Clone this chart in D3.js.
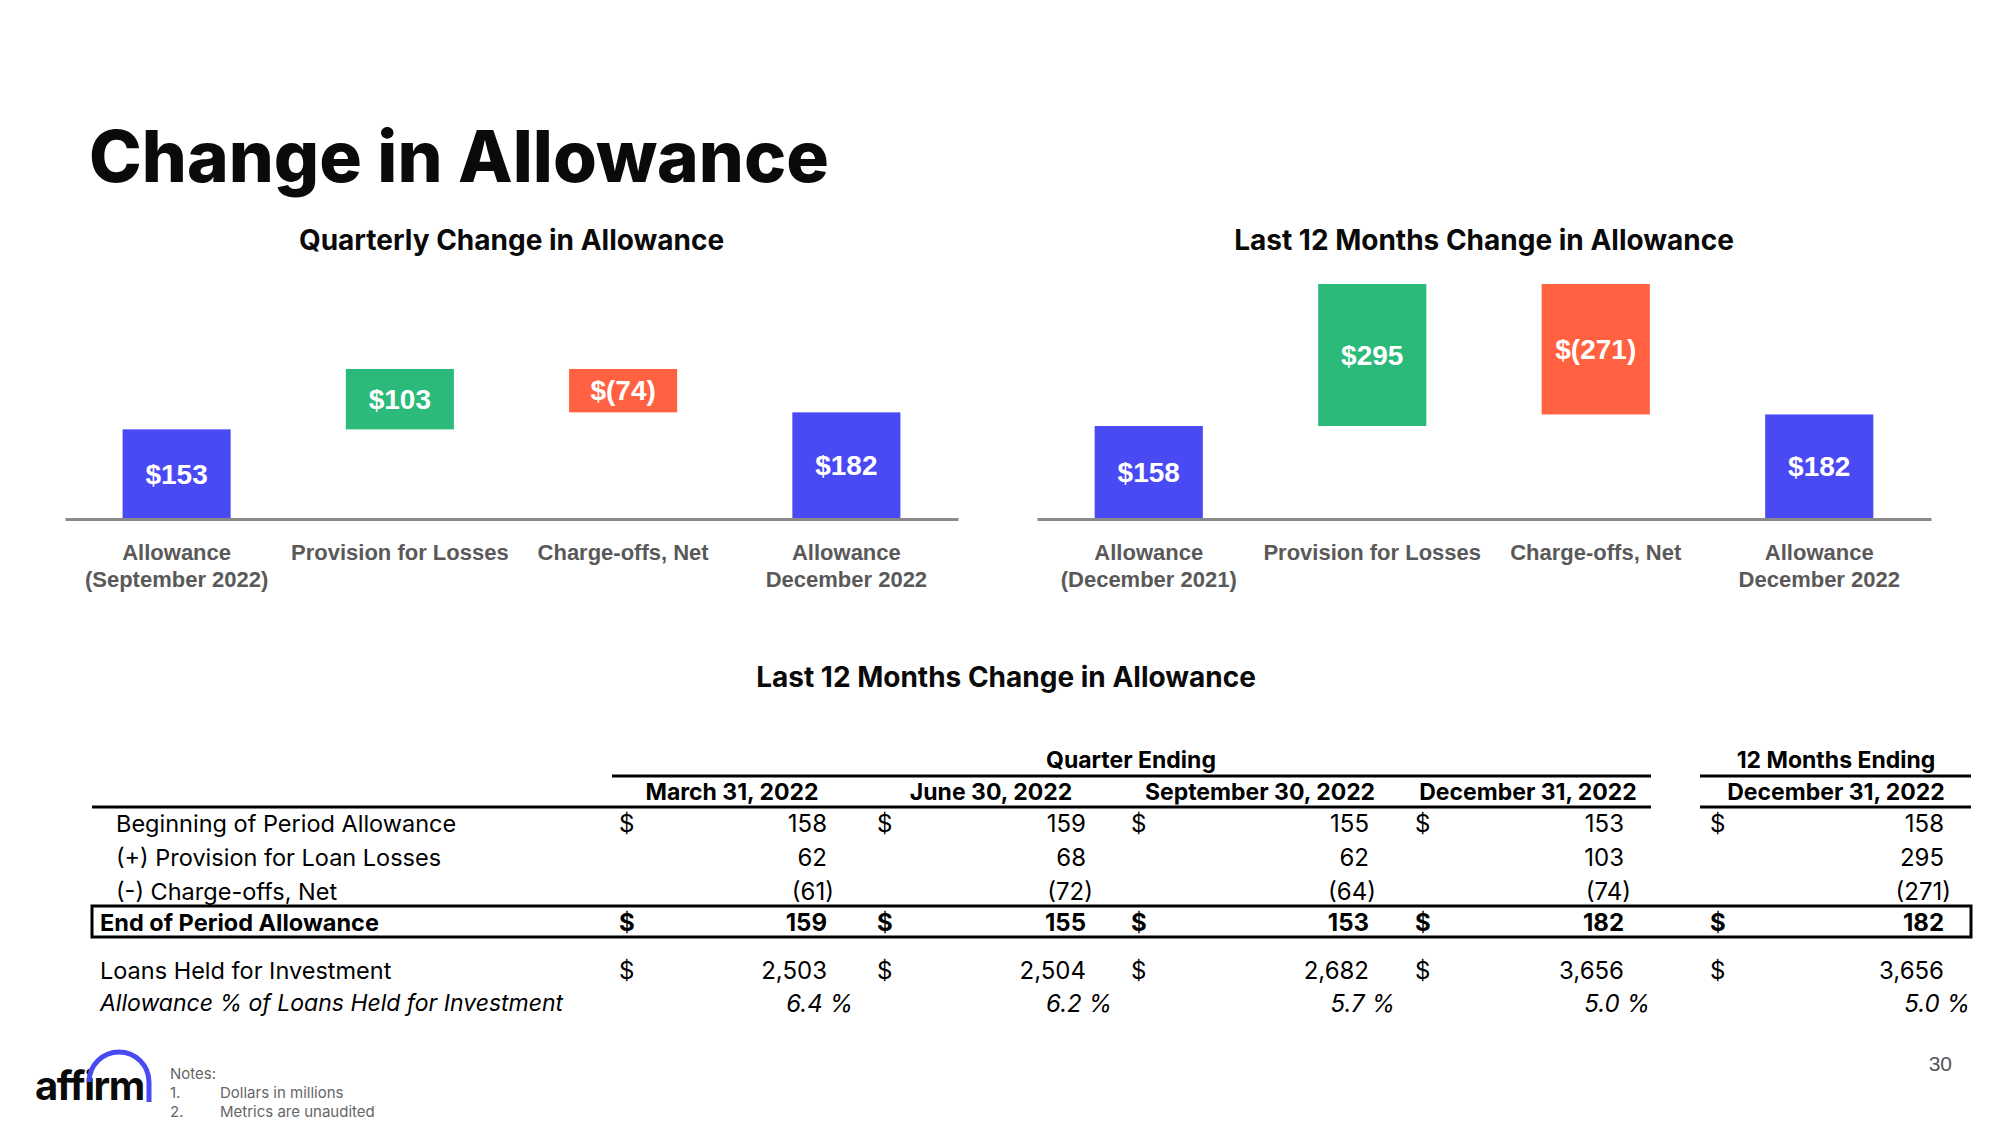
<!DOCTYPE html>
<html>
<head>
<meta charset="utf-8">
<script src="https://cdn.jsdelivr.net/npm/d3@7"></script>
<style>
  body { margin: 0; background: #fff; }
  svg text { font-family: Inter, "Noto Sans", sans-serif; }
</style>
</head>
<body>
<svg id="slide"></svg>
<script>
// ---- data ----
var quarterCategories = ["Allowance\n(September 2022)", "Provision for Losses", "Charge-offs, Net", "Allowance\nDecember 2022"];
var quarterValues = [153, 103, -74, 182];

var ltmCategories = ["Allowance\n(December 2021)", "Provision for Losses", "Charge-offs, Net", "Allowance\nDecember 2022"];
var ltmValues = [158, 295, -271, 182];

var tableColumns = ["March 31, 2022", "June 30, 2022", "September 30, 2022", "December 31, 2022", "December 31, 2022"];
var rowLabels = ["Beginning of Period Allowance", "(+) Provision for Loan Losses", "(-) Charge-offs, Net",
                 "End of Period Allowance", "Loans Held for Investment", "Allowance % of Loans Held for Investment"];
var beginAllowance = [158, 159, 155, 153, 158];
var provisionLosses = [62, 68, 62, 103, 295];
var chargeOffs = [-61, -72, -64, -74, -271];
var endAllowance = [159, 155, 153, 182, 182];
var loansHeld = [2503, 2504, 2682, 3656, 3656];
var allowancePct = [6.4, 6.2, 5.7, 5.0, 5.0];

// ---- colours ----
var blue = "#4a4af4", green = "#2bba7a", red = "#ff6141";

var svg = d3.select("#slide").attr("width", 2000).attr("height", 1125);

// title
svg.append("text")
    .attr("x", 89).attr("y", 182)
    .attr("font-size", 71).attr("font-weight", 800)
    .attr("fill", "#0a0a0a")
    .text("Change in Allowance");

function money(v) {
    return v < 0 ? "$(" + (-v) + ")" : "$" + v;
}

// waterfall chart
function drawWaterfall(title, cats, values, xRange, yScale) {
    var g = svg.append("g");

    var x = d3.scaleBand()
        .domain(cats)
        .range(xRange)
        .paddingInner(0.516)
        .paddingOuter(0.258);

    // running totals -> bar start/end
    var run = 0;
    var steps = values.map(function(v, i) {
        var s;
        if (i === 0 || i === values.length - 1) {
            s = { y0: 0, y1: v, type: "total" };
            run = v;
        } else {
            s = { y0: run, y1: run + v, type: v >= 0 ? "up" : "down" };
            run = run + v;
        }
        s.cat = cats[i];
        s.value = v;
        return s;
    });

    g.append("text")
        .attr("x", (xRange[0] + xRange[1]) / 2).attr("y", 240)
        .attr("text-anchor", "middle").attr("dominant-baseline", "central")
        .attr("font-size", 28).attr("font-weight", 700).attr("fill", "#0a0a0a")
        .text(title);

    g.selectAll("rect.bar")
        .data(steps)
        .enter().append("rect")
        .attr("class", "bar")
        .attr("x", function(d) { return x(d.cat); })
        .attr("width", x.bandwidth())
        .attr("y", function(d) { return yScale(Math.max(d.y0, d.y1)); })
        .attr("height", function(d) { return Math.abs(yScale(d.y0) - yScale(d.y1)); })
        .attr("fill", function(d) { return d.type === "total" ? blue : (d.type === "up" ? green : red); });

    g.selectAll("text.val")
        .data(steps)
        .enter().append("text")
        .attr("class", "val")
        .attr("x", function(d) { return x(d.cat) + x.bandwidth() / 2; })
        .attr("y", function(d) { return (yScale(d.y0) + yScale(d.y1)) / 2; })
        .attr("text-anchor", "middle").attr("dominant-baseline", "central")
        .style("font-family", "'Liberation Sans', Arial, sans-serif")
        .attr("font-size", 28).attr("font-weight", 700).attr("fill", "#fff")
        .text(function(d) { return money(d.value); });

    // baseline axis
    var axis = g.append("g")
        .attr("transform", "translate(0," + yScale(0) + ")")
        .call(d3.axisBottom(x).tickSize(0).tickSizeOuter(0));
    axis.select(".domain").attr("stroke", "#8a8a8a").attr("stroke-width", 3);
    axis.selectAll(".tick text").each(function(d) {
        var t = d3.select(this).text(null).attr("dy", null).attr("y", null)
            .style("font-family", "'Liberation Sans', Arial, sans-serif")
            .attr("font-size", 22).attr("font-weight", 700).attr("fill", "#595959");
        d.split("\n").forEach(function(line, i) {
            t.append("tspan").attr("x", 0).attr("y", 33 + i * 27)
                .attr("dominant-baseline", "central").text(line);
        });
    });
}

var yQuarter = d3.scaleLinear()
    .domain([0, quarterValues[0] + quarterValues[1]])
    .range([519, 369]);
drawWaterfall("Quarterly Change in Allowance", quarterCategories, quarterValues, [65, 958], yQuarter);

// the LTM panel in the slide is not to one scale: deltas are drawn compressed
var yLtm = d3.scaleLinear()
    .domain([0, ltmValues[0], ltmValues[0] + ltmValues[1]])
    .range([519, 426, 284]);
drawWaterfall("Last 12 Months Change in Allowance", ltmCategories, ltmValues, [1037, 1931], yLtm);

// ---- table ----
var tg = svg.append("g");
tg.append("text")
    .attr("x", 1006).attr("y", 677)
    .attr("text-anchor", "middle").attr("dominant-baseline", "central")
    .attr("font-size", 28).attr("font-weight", 700).attr("fill", "#0a0a0a")
    .text("Last 12 Months Change in Allowance");

var colCenter = [732, 991, 1260, 1528, 1836];
var colDollar = [619, 877, 1131, 1415, 1710];
var colRight = [827, 1086, 1369, 1624, 1944];
var rowY = [823, 857, 891, 922, 970, 1003];

tg.append("text").attr("x", 1131).attr("y", 760)
    .attr("text-anchor", "middle").attr("dominant-baseline", "central")
    .attr("font-size", 23).attr("font-weight", 700).text("Quarter Ending");
tg.append("text").attr("x", 1836).attr("y", 760)
    .attr("text-anchor", "middle").attr("dominant-baseline", "central")
    .attr("font-size", 23).attr("font-weight", 700).text("12 Months Ending");

// rules
function rule(x1, x2, y) {
    tg.append("line").attr("x1", x1).attr("x2", x2).attr("y1", y).attr("y2", y)
        .attr("stroke", "#000").attr("stroke-width", 3);
}
rule(612, 1651, 776);
rule(1700, 1971, 776);
rule(92, 1651, 807);
rule(1700, 1971, 807);
tg.append("rect").attr("x", 92).attr("y", 906).attr("width", 1879).attr("height", 31)
    .attr("fill", "none").attr("stroke", "#000").attr("stroke-width", 3);

tg.selectAll("text.colhead")
    .data(tableColumns)
    .enter().append("text")
    .attr("class", "colhead")
    .attr("x", function(d, i) { return colCenter[i]; })
    .attr("y", 792)
    .attr("text-anchor", "middle").attr("dominant-baseline", "central")
    .attr("font-size", 23).attr("font-weight", 700)
    .text(function(d) { return d; });

// row labels
var rowIndent = [116, 116, 116, 100, 100, 100];
rowLabels.forEach(function(label, r) {
    tg.append("text")
        .attr("x", rowIndent[r]).attr("y", rowY[r])
        .attr("dominant-baseline", "central")
        .attr("font-size", r === 5 ? 23 : 23.5)
        .attr("font-weight", r === 3 ? 700 : 400)
        .attr("font-style", r === 5 ? "italic" : "normal")
        .text(label);
});

var fmt = d3.format(",");
var rows = [
    { vals: beginAllowance, dollar: true, bold: false, kind: "num" },
    { vals: provisionLosses, dollar: false, bold: false, kind: "num" },
    { vals: chargeOffs, dollar: false, bold: false, kind: "num" },
    { vals: endAllowance, dollar: true, bold: true, kind: "num" },
    { vals: loansHeld, dollar: true, bold: false, kind: "num" },
    { vals: allowancePct, dollar: false, bold: false, kind: "pct" }
];

rows.forEach(function(row, r) {
    row.vals.forEach(function(v, c) {
        if (row.dollar) {
            tg.append("text")
                .attr("x", colDollar[c]).attr("y", rowY[r])
                .attr("dominant-baseline", "central")
                .attr("font-size", 24).attr("font-weight", row.bold ? 700 : 400)
                .text("$");
        }
        var txt, dx = 0;
        if (row.kind === "pct") { txt = v.toFixed(1) + " %"; dx = 26; }
        else if (v < 0) { txt = "(" + fmt(-v) + ")"; dx = 7; }
        else { txt = fmt(v); }
        tg.append("text")
            .attr("x", colRight[c] + dx).attr("y", rowY[r])
            .attr("text-anchor", "end").attr("dominant-baseline", "central")
            .attr("font-size", 24).attr("font-weight", row.bold ? 700 : 400)
            .attr("font-style", row.kind === "pct" ? "italic" : "normal")
            .text(txt);
    });
});

// ---- footer ----
var foot = svg.append("g");
foot.append("text").attr("x", 35).attr("y", 1100)
    .attr("font-size", 40).attr("font-weight", 700).attr("letter-spacing", -1.5)
    .attr("fill", "#0a0a0a").text("affirm");
foot.append("path")
    .attr("d", "M89,1082 A30,30 0 0 1 149,1082 L149,1102")
    .attr("fill", "none").attr("stroke", blue).attr("stroke-width", 5);

var notes = [["Notes:", ""], ["1.", "Dollars in millions"], ["2.", "Metrics are unaudited"]];
notes.forEach(function(n, i) {
    foot.append("text").attr("x", 170).attr("y", 1073 + i * 19)
        .attr("dominant-baseline", "central").attr("font-size", 15).attr("fill", "#666")
        .text(n[0]);
    foot.append("text").attr("x", 220).attr("y", 1073 + i * 19)
        .attr("dominant-baseline", "central").attr("font-size", 15).attr("fill", "#666")
        .text(n[1]);
});

svg.append("text").attr("x", 1952).attr("y", 1063)
    .attr("text-anchor", "end").attr("dominant-baseline", "central")
    .style("font-family", "'Liberation Sans', Arial, sans-serif")
    .attr("font-size", 21).attr("fill", "#555").text("30");
</script>
</body>
</html>
